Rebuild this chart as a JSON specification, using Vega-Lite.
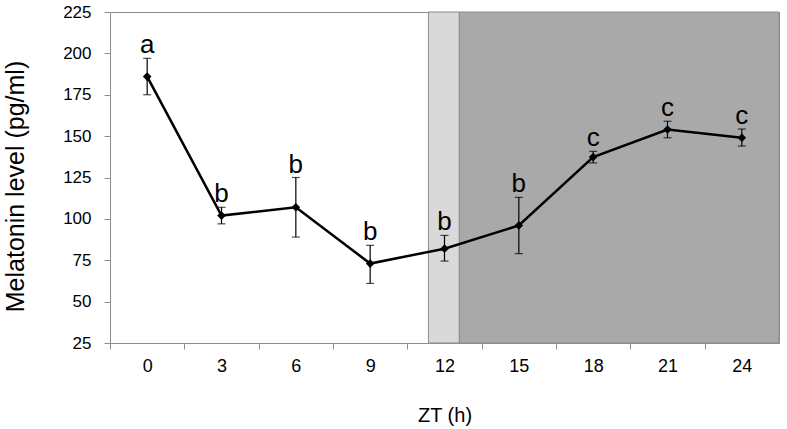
{
  "$schema": "https://vega.github.io/schema/vega-lite/v6.json",
  "width": 669,
  "height": 331,
  "autosize": "none",
  "padding": {"left": 110, "top": 12, "right": 8, "bottom": 86},
  "background": "white",
  "config": {
    "view": {"stroke": "#8c8c8c", "strokeWidth": 1},
    "font": "Liberation Sans"
  },
  "datasets": {
    "pts": [
      {"zt": 0, "mel": 186, "lo": 175, "hi": 197, "grp": "a"},
      {"zt": 3, "mel": 102, "lo": 97, "hi": 107, "grp": "b"},
      {"zt": 6, "mel": 107, "lo": 89, "hi": 125, "grp": "b"},
      {"zt": 9, "mel": 73, "lo": 61, "hi": 84, "grp": "b"},
      {"zt": 12, "mel": 82, "lo": 74.5, "hi": 90, "grp": "b"},
      {"zt": 15, "mel": 96, "lo": 79, "hi": 113, "grp": "b"},
      {"zt": 18, "mel": 137.4, "lo": 133.8, "hi": 140.8, "grp": "c"},
      {"zt": 21, "mel": 154, "lo": 149, "hi": 159, "grp": "c"},
      {"zt": 24, "mel": 149, "lo": 144, "hi": 154.3, "grp": "c"}
    ],
    "shade": [
      {"x0": 11.35, "x1": 12.6, "phase": "twilight"},
      {"x0": 12.6, "x1": 25.5, "phase": "dark"}
    ]
  },
  "layer": [
    {
      "data": {"name": "shade"},
      "mark": {"type": "rect", "stroke": "#8c8c8c", "strokeWidth": 1},
      "encoding": {
        "x": {"field": "x0", "type": "quantitative", "scale": {"domain": [-1.5, 25.5], "nice": false, "zero": false},
          "axis": {
            "values": [0, 3, 6, 9, 12, 15, 18, 21, 24],
            "tickOffset": -37.17,
            "labelOffset": 37.17,
            "title": "ZT (h)",
            "titleFontSize": 20,
            "titleFontWeight": "normal",
            "titleColor": "black",
            "titlePadding": 30,
            "labelFontSize": 18,
            "labelColor": "black",
            "labelPadding": 8,
            "domainColor": "#8c8c8c",
            "tickColor": "#8c8c8c",
            "tickSize": 6,
            "grid": false
          }},
        "x2": {"field": "x1"},
        "y": {"datum": 225, "type": "quantitative"},
        "y2": {"datum": 25},
        "color": {"field": "phase", "type": "nominal", "scale": {"domain": ["twilight", "dark"], "range": ["#d9d9d9", "#a9a9a9"]}, "legend": null}
      }
    },
    {
      "data": {"name": "pts"},
      "mark": {"type": "rule", "color": "black", "strokeWidth": 1.2},
      "encoding": {
        "x": {"field": "zt", "type": "quantitative"},
        "y": {"field": "lo", "type": "quantitative", "scale": {"domain": [25, 225], "nice": false, "zero": false},
          "axis": {
            "values": [25, 50, 75, 100, 125, 150, 175, 200, 225],
            "title": "Melatonin level (pg/ml)",
            "titleFontSize": 25,
            "titleFontWeight": "normal",
            "titleColor": "black",
            "titleAngle": 270,
            "titleBaseline": "alphabetic",
            "titleAlign": "center",
            "titleX": -87,
            "titleY": 174,
            "labelFontSize": 17,
            "labelColor": "black",
            "labelPadding": 13,
            "domainColor": "#8c8c8c",
            "tickColor": "#8c8c8c",
            "tickSize": 6,
            "grid": false
          }},
        "y2": {"field": "hi"}
      }
    },
    {
      "data": {"name": "pts"},
      "mark": {"type": "tick", "color": "black", "size": 8, "thickness": 1.2, "orient": "horizontal"},
      "encoding": {
        "x": {"field": "zt", "type": "quantitative"},
        "y": {"field": "lo", "type": "quantitative"}
      }
    },
    {
      "data": {"name": "pts"},
      "mark": {"type": "tick", "color": "black", "size": 8, "thickness": 1.2, "orient": "horizontal"},
      "encoding": {
        "x": {"field": "zt", "type": "quantitative"},
        "y": {"field": "hi", "type": "quantitative"}
      }
    },
    {
      "data": {"name": "pts"},
      "mark": {"type": "line", "color": "black", "strokeWidth": 2.5},
      "encoding": {
        "x": {"field": "zt", "type": "quantitative"},
        "y": {"field": "mel", "type": "quantitative"}
      }
    },
    {
      "data": {"name": "pts"},
      "mark": {"type": "point", "shape": "diamond", "filled": true, "color": "black", "size": 75, "opacity": 1},
      "encoding": {
        "x": {"field": "zt", "type": "quantitative"},
        "y": {"field": "mel", "type": "quantitative"}
      }
    },
    {
      "data": {"name": "pts"},
      "mark": {"type": "text", "fontSize": 26, "color": "black", "baseline": "alphabetic", "dy": -5},
      "encoding": {
        "x": {"field": "zt", "type": "quantitative"},
        "y": {"field": "hi", "type": "quantitative"},
        "text": {"field": "grp"}
      }
    }
  ]
}
